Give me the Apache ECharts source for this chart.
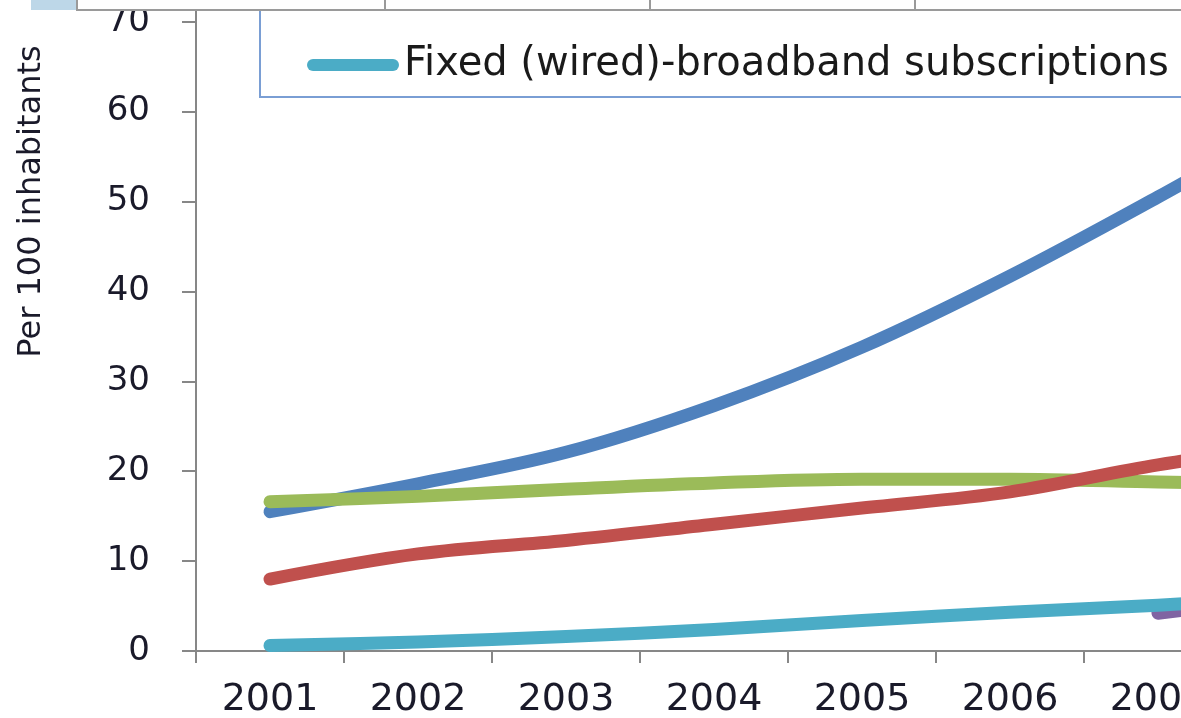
<!DOCTYPE html>
<html>
<head>
<meta charset="utf-8">
<script src="https://cdn.jsdelivr.net/npm/echarts@6/dist/echarts.min.js"></script>
<style>
html,body{margin:0;padding:0;width:1181px;height:718px;overflow:hidden;background:#fff;}
#chart{position:absolute;left:0;top:-300px;width:1900px;height:1018px;}
</style>
</head>
<body>
<div id="chart"></div>
<script>
var years = ['2001','2002','2003','2004','2005','2006','2007','2008','2009','2010','2011'];
var mobileCellular = [15.5, 18.6, 22.1, 27.3, 33.8, 41.7, 50.5, 59.7, 68.0, 76.6, 86.7];
var fixedTelephone = [16.6, 17.2, 18.0, 18.7, 19.1, 19.1, 18.8, 18.5, 18.1, 17.3, 16.6];
var internetUsers = [8.0, 10.8, 12.3, 14.1, 15.9, 17.7, 20.7, 23.1, 25.6, 29.5, 32.5];
var mobileBroadband = [null, null, null, null, null, null, 4.2, 6.3, 9.0, 11.5, 17.0];
var fixedBroadband = [0.6, 1.0, 1.6, 2.4, 3.4, 4.3, 5.1, 6.1, 6.9, 7.6, 8.5];
var yTicks = {min: 0, max: 100, interval: 10};

var FONT = 'DejaVu Sans';
var OFF = 300; // vertical offset of the chart box above the window

function lineSeries(name, data, color) {
  return {
    name: name, type: 'line', data: data, smooth: 0.35,
    symbol: 'none', showSymbol: false, connectNulls: false,
    lineStyle: {width: 13, color: color, cap: 'round', join: 'round'},
    itemStyle: {color: color},
    emphasis: {disabled: true}
  };
}

var chart = echarts.init(document.getElementById('chart'), null, {renderer: 'canvas'});
chart.setOption({
  animation: false,
  backgroundColor: '#ffffff',
  grid: {left: 196, top: 52, width: 1628, height: 899, outerBoundsMode: 'none', containLabel: false},
  legend: {
    left: 260, bottom: 621,
    width: 1780,
    orient: 'horizontal',
    padding: [20, 20, 12, 47],
    itemGap: 34,
    itemWidth: 92, itemHeight: 12,
    itemTextGap: 2,
    icon: 'path://M6,0 L86,0 A6,6 0 0 1 86,12 L6,12 A6,6 0 0 1 6,0 Z',
    borderColor: '#7A9ED4', borderWidth: 2,
    backgroundColor: '#ffffff',
    textStyle: {fontFamily: FONT, fontSize: 40, color: '#1a1a1a', lineHeight: 40},
    data: ['Mobile-cellular telephone subscriptions', 'Internet users',
           'Fixed-telephone subscriptions', 'Active mobile-broadband subscriptions',
           'Fixed (wired)-broadband subscriptions']
  },
  xAxis: {
    type: 'category', data: years, boundaryGap: true,
    axisLine: {lineStyle: {color: '#878787', width: 2}},
    axisTick: {show: true, length: 12, inside: false, alignWithLabel: false, lineStyle: {color: '#878787', width: 2}},
    axisLabel: {fontFamily: FONT, fontSize: 38, color: '#1a1a2a', margin: 30, interval: 0},
    splitLine: {show: false}
  },
  yAxis: {
    type: 'value', min: yTicks.min, max: yTicks.max, interval: yTicks.interval,
    name: 'Per 100 inhabitants', nameLocation: 'middle', nameGap: 148, nameRotate: 90,
    nameTextStyle: {fontFamily: FONT, fontSize: 32, color: '#1a1a2a'},
    axisLine: {show: true, lineStyle: {color: '#878787', width: 2}},
    axisTick: {show: true, length: 14, lineStyle: {color: '#878787', width: 2}},
    axisLabel: {fontFamily: FONT, fontSize: 34, color: '#1a1a2a', margin: 46, padding: [6, 0, 0, 0]},
    splitLine: {show: false}
  },
  series: [
    lineSeries('Mobile-cellular telephone subscriptions', mobileCellular, '#4F81BD'),
    lineSeries('Fixed-telephone subscriptions', fixedTelephone, '#9BBB59'),
    lineSeries('Internet users', internetUsers, '#C0504D'),
    lineSeries('Active mobile-broadband subscriptions', mobileBroadband, '#8064A2'),
    lineSeries('Fixed (wired)-broadband subscriptions', fixedBroadband, '#4BACC6')
  ],
  graphic: [
    {type: 'rect', z: 100, shape: {x: 31, y: OFF - 10, width: 45, height: 20}, style: {fill: '#BDD7E8'}},
    {type: 'rect', z: 100, shape: {x: 77, y: OFF - 10, width: 1200, height: 20}, style: {fill: '#ffffff', stroke: '#9a9a9a', lineWidth: 2}},
    {type: 'line', z: 101, shape: {x1: 385, y1: OFF - 10, x2: 385, y2: OFF + 10}, style: {stroke: '#9a9a9a', lineWidth: 2}},
    {type: 'line', z: 101, shape: {x1: 650, y1: OFF - 10, x2: 650, y2: OFF + 10}, style: {stroke: '#9a9a9a', lineWidth: 2}},
    {type: 'line', z: 101, shape: {x1: 915, y1: OFF - 10, x2: 915, y2: OFF + 10}, style: {stroke: '#9a9a9a', lineWidth: 2}}
  ]
});
</script>
</body>
</html>
